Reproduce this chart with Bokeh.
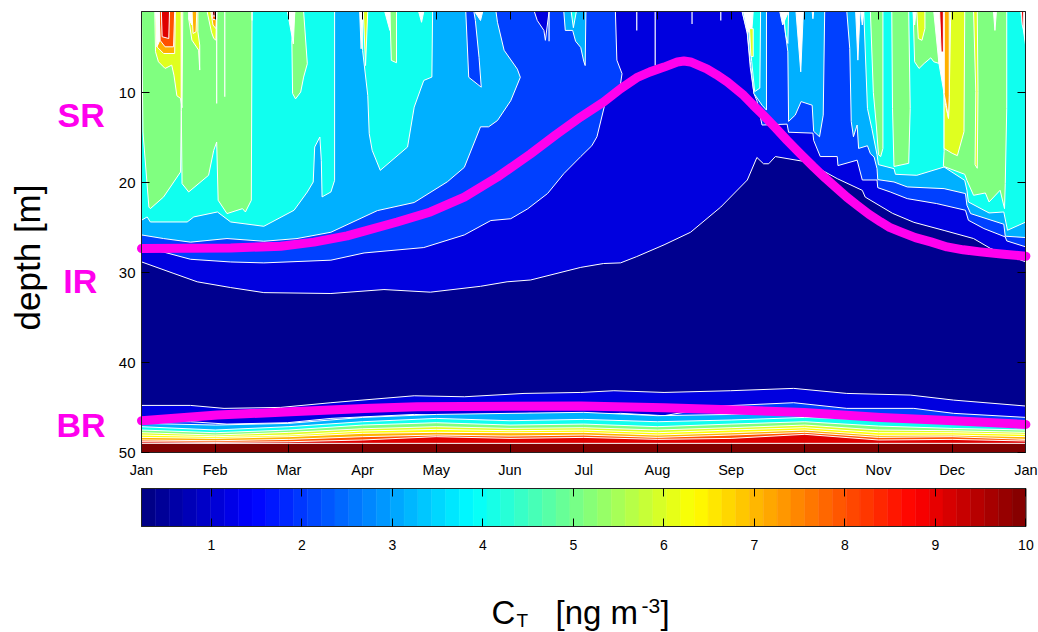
from bokeh.plotting import figure
from bokeh.layouts import column
from bokeh.models import Range1d, LinearAxis, FixedTicker, Label
from bokeh.embed import file_html
from bokeh.resources import INLINE
import math

MONTHS = ["Jan","Feb","Mar","Apr","May","Jun","Jul","Aug","Sep","Oct","Nov","Dec","Jan"]
DEPTH_TICKS = [10,20,30,40,50]
CBAR_TICKS = [1,2,3,4,5,6,7,8,9,10]
CBAR_MIN, CBAR_MAX = 0.227, 10.0

NAVY, C1, C2, C3, CYAN, GREEN, LIME, YELLOW, ORANGE, ORED, RED, DRED = (
    "#00008f","#0000df","#0040ff","#00b0ff","#10ffef","#80ff80",
    "#dfff20","#ffff00","#ffb000","#ff5000","#df0000","#800000")
WHITE = "#ffffff"

# --- upper contours: (month, depth) ---
A_X = [0,.44,.756,1.21,1.66,2.57,3.29,3.92,4.60,4.96,5.28,5.96,6.27,6.50,6.72,7.09,7.45,7.86,8.22,8.35,8.44,8.51,8.60,9.03,9.44,9.78,9.82,10.19,10.48,10.89,11.29,11.52,12]
A_D = [28.79,30.08,31.0,31.64,32.2,32.3,31.86,32.15,31.5,31.0,30.8,29.4,28.97,28.9,28.2,26.9,25.5,22.7,19.7,17.2,17.9,17.9,17.1,17.7,19.55,20.85,21.6,23.4,24.4,25.3,26.2,27.3,28.8]

BL_X = [0,.30,.665,1.21,1.66,2.57,3.02,3.83,4.38,4.74,5.01,5.24,5.51,5.73,5.96,6.11,6.18,6.29,6.50,6.52,6.45,6.43]
BL_D = [27.3,27.7,28.5,28.8,28.9,28.6,27.8,27.2,25.8,24.2,24.0,22.9,21.2,19.0,17.1,15.9,14.9,11.2,9.0,7.9,6.4,1]
BR_X = [8.15,8.22,8.26,8.31,8.35,8.42,8.76,8.78,9.11,9.12,9.21,9.44,9.45,9.71,9.78,9.98,9.99,10.16,10.39,10.79,11.18,11.22,11.43,11.72,11.74,12]
BR_D = [1,3.5,7.2,10.1,10.9,13.6,13.5,14.4,14.5,15.3,17.1,17.1,18.1,17.5,19.7,19.7,20.55,21.03,21.77,22.32,23.06,24.17,25.09,26.02,26.46,27.13]

CL_X = [0,.30,.665,1.16,1.66,2.11,2.57,3.20,3.70,4.15,4.38,4.60,4.71,4.83,5.01,5.14,5.10,4.92,4.83,4.81]
CL_D = [25.8,26.2,26.6,26.2,26.5,26.2,25.5,23.1,22.2,19.9,18.3,13.8,13.8,13.1,10.9,8.3,7.4,5.3,2.2,1]
C_NOTCH_X = [4.40,4.44,4.61,4.58,4.53,4.51]
C_NOTCH_D = [1,8.3,9.4,6.1,2.0,1]
DARK_NOTCH_X = [5.33,5.37,5.46,5.48,5.53]
DARK_NOTCH_D = [1,2,3.1,4.2,1]
JUL_X = [5.73,5.75,5.85,5.89,5.96,6.0,6.02,6.03]
JUL_D = [1,3.1,3.1,4.3,5.0,6.5,7,1]
JULC_X = [5.83,5.86,5.90]
JULC_D = [1,2.8,1]

P1_X = [8.15,8.22,8.26,8.31,8.42,8.48,8.48]
P1_D = [1,3.25,6.58,10.1,11.4,11.94,1]
P2_X = [8.70,8.74,8.77,8.78,8.87,8.95,9.10,9.12,9.20,9.25,9.27]
P2_D = [1,3.6,5.47,13.2,12.5,11.0,11.4,14.3,14.9,12.5,1]
P3_X = [9.57,9.61,9.63,9.66,9.71,9.73,9.85,9.89,9.94,9.98,9.99,10.21,10.39,10.89,11.18,11.20,11.25,11.70,11.72,12,12]
P3_D = [1,5.1,13.2,14.9,13.6,16.2,15.9,16.78,17.15,18.44,19.66,19.92,20.47,20.66,21.21,22.51,23.43,24.61,25.94,26.09,1]

CY1_X = [0,.077,.12,.62,.71,1.03,1.21,1.66,2.07,2.25,2.33,2.35,2.42,2.44,2.45,2.57,2.62,2.62,0]
CY1_D = [24.17,23.8,24.36,24.36,23.8,23.25,24.36,24.84,23.06,21.03,19.92,16.04,14.93,17.52,21.58,21.03,19.74,1,1]
CY2_X = [3.0,3.0,3.07,3.09,3.13,3.24,3.61,3.70,3.83,3.94,3.95]
CY2_D = [1,5.32,10.31,14.56,16.41,18.63,16.04,11.61,8.65,8.28,1]
CY3_X = [8.17,8.24,8.28,8.32,8.39,8.40]
CY3_D = [1,3.25,6.58,9.9,9.5,1]
CY4_X = [8.71,8.74,8.77,8.78]
CY4_D = [1,3.6,4.55,1]
CY5_X = [9.80,9.85,9.91,9.98,10.0,10.21,10.23,10.52,10.89,11.17,11.20,11.22,11.50,11.70,11.75,12,12]
CY5_D = [1,11.75,14,16.9,18.0,18.44,19.07,19.18,18.26,19.74,20.84,22.14,23.36,23.25,25.28,24.36,1]

GL_X = [0,.02,.10,.12,.30,.53,.54,.55,.64,.91,.98,1.02,1.04,1.16,1.37,1.41,1.49,1.50]
GL_D = [1,14.38,22.7,22.88,21.58,18.81,11.98,20.1,21.03,19.18,16.41,15.49,21.95,23.43,22.88,23.25,21.95,1]
GM1_X = [2.08,2.04,2.05,2.09,2.16,2.20,2.25,2.20]
GM1_D = [1,4.2,10.1,10.7,9.94,8.28,6.8,1]
GM2_X = [3.37,3.39,3.46,3.46]
GM2_D = [1,6.43,6.69,1]
GR1_X = [9.89,9.93,9.97,10.0,10.03,10.06,10.06]
GR1_D = [1,10,13.6,16.9,17.1,16.2,1]
GR2_X = [10.18,10.19,10.21,10.41,10.43,10.41]
GR2_D = [1,11.75,18.2,17.85,11.75,1]
GR3_X = [10.47,10.49,10.55,10.62,10.71,10.75,10.82,10.84]
GR3_D = [1,6.58,7.32,6.76,6.14,6.58,6.76,1]
GR4_X = [10.89,10.89,10.88,11.17,11.20,11.29,11.45,11.50,11.65,11.71,11.72,11.74,11.74]
GR4_D = [1,16.55,18.18,19.07,19.74,21.4,21.14,22.14,20.84,22.88,20.1,11.75,1]

# hot patches
LY1_X = [.18,.19,.23,.32,.41,.44,.48,.53,.55,.56]
LY1_D = [1,5.47,6.58,7.32,6.95,8.06,10.35,10.65,11.68,1]
LO1_X = [.21,.21,.30,.45,.46]
LO1_D = [1,4.92,5.66,5.66,1]
LR1_X = [.24,.25,.32,.435,.45]
LR1_D = [1,4.18,4.92,4.92,1]
LD1_X = [.27,.28,.37,.38]
LD1_D = [1,3.8,4.0,1]
LW1_X = [.19,.21,.25,.24]
LW1_D = [1,4.92,4.18,1]
LY2_X = [.64,.684,.775,.79,.79,.765,.765]
LY2_D = [1.78,4.18,5.29,7.5,4.73,3.25,1]
LO2_X = [.684,.70,.74,.75]
LO2_D = [1,3.44,3.25,1]
LW2_X = [.64,.64,.684,.684]
LW2_D = [1,1.78,2.5,1]
LY3_X = [.89,.95,.98,1.01,1.02]
LY3_D = [1,3.3,3.99,4.18,1]
LO3_X = [.94,.97,1.01,1.02]
LO3_D = [1,2.5,2.9,1]
LR3_X = [.95,.97,1.02,1.02]
LR3_D = [1,1.9,1.9,1]
LD3_X = [.96,.97,1.0,1.0]
LD3_D = [1,1.5,1.5,1]
MY1_X = [3.01,3.04,3.07]
MY1_D = [1,7,1]
RY1_X = [10.89,10.89,11.0,11.07,11.16,11.17,10.98,10.96,10.95,10.91]
RY1_D = [9.9,16.2,16.74,17,14.34,1,1,10.28,12.86,11.4]
RO1_X = [10.89,10.89,10.92,10.95,10.96,10.96]
RO1_D = [1,10.09,11.4,12.86,10.28,1]
RW1_X = [10.75,10.82,10.89,10.89]
RW1_D = [1,6.76,10.09,1]
RD1_X = [10.83,10.85,10.88,10.88]
RD1_D = [1,5.5,5.5,1]
RY2_X = [10.52,10.54,10.59,10.63,10.63]
RY2_D = [1,4,4.2,2.9,1]
RY3_X = [11.29,11.32,11.31,11.34,11.35,11.34]
RY3_D = [1,9.9,18,18.4,9.9,1]
EW1_X = [11.93,12,12]
EW1_D = [1,5,1]
ED1_X = [11.94,11.95,11.97,11.97]
ED1_D = [1,2.5,3,1]
TY1_X = [8.25,8.30,8.30,8.27]
TY1_D = [2.9,2.9,6.0,6.0]
TW1_X = [8.17,8.225,8.28,8.30]
TW1_D = [1,3.25,3.25,1]

WEDGES = [
    ([1.98,2.06,2.08],[1,4.6,1]), ([3.30,3.37,3.37],[1,3.1,1]),
    ([2.96,2.98,3.0],[1,5.14,1]), ([3.76,3.80,3.83],[1,2.2,1]),
    ([4.52,4.60,4.63],[1,2,1]), ([8.88,8.945,8.98],[1,7.7,1]),
    ([9.10,9.11,9.12],[1,1.8,1]), ([9.69,9.72,9.75],[1,6.4,1]),
    ([9.76,9.78,9.80],[1,2.5,1]), ([10.47,10.49,10.51],[1,2.5,1]),
    ([11.56,11.58,11.60],[1,3.1,1]), ([8.66,8.70,8.78],[1,2.5,1]),
]
SPIKE_X = [1.02,1.13,6.72,6.97,7.47,7.86,5.53,.54,1.50,8.48]
SPIKE_D = [11.2,10.46,3.1,7.0,2.4,2.0,4.3,12.0,2.0,1.0]

# --- lower contours ---
LOW_A_X = [0,.665,1.12,1.89,2.57,3.70,4.38,5.19,5.96,6.41,7.09,7.99,8.85,9.57,10.43,11.02,12]
LOW_A_D = [44.72,44.72,45.05,44.94,44.42,43.65,43.76,43.39,43.28,43.09,43.28,43.09,42.83,43.39,43.57,44.13,44.79]
LOW_B_X = [0,.665,1.16,1.98,2.57,3.70,4.38,5.28,5.96,6.50,7.09,7.86,8.85,9.57,10.48,11.02,12]
LOW_B_D = [46.53,46.53,46.79,46.64,46.16,45.72,45.9,45.6,45.9,45.6,45.86,44.79,44.42,45.05,45.05,45.6,46.05]
MONTH_POS = [0,1,2,3,4,5,6,7,8,9,10,11,12]
B3 = [46.71,46.9,46.71,46.05,45.72,45.6,45.49,45.86,45.72,45.42,45.98,46.27,46.53]
B4 = [47.08,47.45,47.08,46.53,46.16,46.42,46.27,46.53,46.34,46.05,46.34,46.71,47.27]
B5 = [47.45,47.75,47.45,46.9,46.64,46.9,46.79,47.08,46.79,46.53,47.01,47.27,47.45]
B6 = [47.75,48.01,47.71,47.31,47.08,47.27,47.19,47.45,47.19,46.9,47.45,47.53,47.71]
B7 = [48.01,48.19,48.01,47.56,47.38,47.53,47.45,47.75,47.45,47.19,47.75,47.75,47.93]
B8 = [48.27,48.38,48.19,47.82,47.71,47.75,47.71,48.01,47.75,47.45,48.04,48.01,48.19]
B9 = [48.56,48.64,48.49,48.19,48.01,48.12,48.01,48.27,48.01,47.71,48.27,48.19,48.49]
B10 = [48.75,48.82,48.75,48.56,48.19,48.38,48.27,48.49,48.38,47.93,48.56,48.49,48.67]
B11 = [48.93,48.93,48.93,48.93,48.93,48.93,48.93,48.93,48.93,48.93,48.93,48.93,48.93]

# --- magenta layer boundaries ---
MU_X = [0,1.21,1.89,2.34,2.79,3.47,3.92,4.38,4.83,5.28,5.62,5.96,6.27,6.50,6.72,6.9,7.09,7.27,7.36,7.45,7.67,7.8,7.95,8.17,8.3,8.44,8.6,8.76,8.94,9.12,9.28,9.44,9.57,9.71,9.87,10.03,10.15,10.30,10.5,10.71,10.93,11.15,11.38,11.7,12]
MU_D = [27.3,27.24,27.05,26.6,25.9,24.36,23.25,21.6,19.37,16.8,14.7,12.7,11.05,9.57,8.35,7.7,7.17,6.6,6.5,6.6,7.36,8.0,8.83,10.3,11.4,12.53,13.9,15.3,16.8,18.26,19.5,20.66,21.6,22.5,23.5,24.36,24.95,25.46,26.1,26.57,27.13,27.45,27.68,27.95,28.16]
ML_X = [0,1.03,2.02,3.02,3.74,5.96,7.09,7.86,8.99,10.03,11.02,12]
ML_D = [46.42,45.79,45.42,45.05,44.87,44.79,44.98,45.16,45.5,46.05,46.42,46.83]

TOP = 1
BOT = 50
FONT = "Liberation Sans"
PX_PER_MONTH = 73.7
PX_PER_M = 9.01
CANVAS_W = 1038
H1, H2 = 486, 146

regions = []
def add(color, xs, ds):
    regions.append((color, xs, ds))

add(C1, [0] + A_X + [12], [TOP] + A_D + [TOP])
add(C2, [0] + BL_X, [TOP] + BL_D)
add(C2, BR_X + [12], BR_D + [TOP])
add(C3, [0] + CL_X, [TOP] + CL_D)
add(C2, C_NOTCH_X, C_NOTCH_D)
add(C1, DARK_NOTCH_X, DARK_NOTCH_D)
add(C3, JUL_X, JUL_D)
add(CYAN, JULC_X, JULC_D)
add(C3, P1_X, P1_D)
add(C3, P2_X, P2_D)
add(C3, P3_X, P3_D)
for xs, ds in [(CY1_X,CY1_D),(CY2_X,CY2_D),(CY3_X,CY3_D),(CY4_X,CY4_D),(CY5_X,CY5_D)]:
    add(CYAN, xs, ds)
for xs, ds in [(GL_X,GL_D),(GM1_X,GM1_D),(GM2_X,GM2_D),(GR1_X,GR1_D),(GR2_X,GR2_D),(GR3_X,GR3_D),(GR4_X,GR4_D)]:
    add(GREEN, xs, ds)
for col, xs, ds in [
    (LIME,LY1_X,LY1_D),(ORANGE,LO1_X,LO1_D),(ORED,LR1_X,LR1_D),(RED,LD1_X,LD1_D),(WHITE,LW1_X,LW1_D),
    (LIME,LY2_X,LY2_D),(ORANGE,LO2_X,LO2_D),(WHITE,LW2_X,LW2_D),
    (LIME,LY3_X,LY3_D),(ORANGE,LO3_X,LO3_D),(ORED,LR3_X,LR3_D),(DRED,LD3_X,LD3_D),
    (LIME,MY1_X,MY1_D),
    (LIME,RY1_X,RY1_D),(ORANGE,RO1_X,RO1_D),(WHITE,RW1_X,RW1_D),(RED,RD1_X,RD1_D),
    (LIME,RY2_X,RY2_D),(LIME,RY3_X,RY3_D),(WHITE,EW1_X,EW1_D),(RED,ED1_X,ED1_D),
    (WHITE,TW1_X,TW1_D),(LIME,TY1_X,TY1_D)]:
    add(col, xs, ds)
for xs, ds in WEDGES:
    add(WHITE, xs, ds)

def lower(color, xs, ds):
    add(color, [0] + xs + [12, 12, 0], [ds[0]] + ds + [ds[-1], BOT, BOT])
lower(C1, LOW_A_X, LOW_A_D)
lower(C2, LOW_B_X, LOW_B_D)
for col, ds in [(C3,B3),(CYAN,B4),(GREEN,B5),(LIME,B6),(YELLOW,B7),(ORANGE,B8),(ORED,B9),(RED,B10),(DRED,B11)]:
    lower(col, MONTH_POS, ds)

# The plotting frame covers the whole canvas, so nothing is clipped; axes sit at fixed data locations.
p = figure(width=CANVAS_W, height=H1, output_backend="svg", toolbar_location=None,
           x_range=Range1d(-141/PX_PER_MONTH, (CANVAS_W-141)/PX_PER_MONTH),
           y_range=Range1d(TOP+(H1-11)/PX_PER_M, TOP-11/PX_PER_M),
           x_axis_location=None, y_axis_location=None,
           min_border_left=0, min_border_right=0, min_border_top=0, min_border_bottom=0)
p.grid.visible = False
p.outline_line_color = None
p.background_fill_color = WHITE
p.border_fill_color = WHITE

p.patches(xs=[[0,12,12,0]], ys=[[TOP,TOP,BOT,BOT]], fill_color=NAVY, line_color=None)
p.patches(xs=[r[1] for r in regions], ys=[r[2] for r in regions],
          fill_color=[r[0] for r in regions], line_color=WHITE, line_width=1)
p.segment(x0=SPIKE_X, y0=[TOP]*len(SPIKE_X), x1=SPIKE_X, y1=SPIKE_D, line_color=WHITE, line_width=1.2)
p.line(MU_X, MU_D, line_color="#ff00ee", line_width=9, line_cap="round", line_join="round")
p.line(ML_X, ML_D, line_color="#ff00ee", line_width=9, line_cap="round", line_join="round")

def axis(fig, side, fixed, ticks, labels, bounds, standoff=6, fs="15px"):
    a = LinearAxis(fixed_location=fixed, bounds=bounds, ticker=FixedTicker(ticks=ticks),
                   major_label_overrides={t: l for t, l in zip(ticks, labels)},
                   major_tick_in=8, major_tick_out=0, minor_tick_in=0, minor_tick_out=0,
                   major_label_standoff=standoff, major_label_text_font=FONT,
                   major_label_text_font_size=fs, major_label_text_color="black",
                   axis_line_color="#222222", major_tick_line_color="black")
    fig.add_layout(a, side)
    return a

m_ticks = list(range(13))
axis(p, "below", BOT, m_ticks, MONTHS, (0,12), standoff=9, fs="14.5px")
axis(p, "above", TOP, m_ticks, [""]*13, (0,12))
axis(p, "left", 0, DEPTH_TICKS, [str(d) for d in DEPTH_TICKS], (TOP,BOT), standoff=6)
axis(p, "right", 12, DEPTH_TICKS, [""]*5, (TOP,BOT))

for txt, x, d in [("SR",-.82,12.5),("IR",-.83,30.9),("BR",-.82,46.9)]:
    p.add_layout(Label(x=x, y=d, text=txt, text_color="#ff00ee", text_font=FONT, text_font_style="bold",
                       text_font_size="34px", text_align="center", text_baseline="middle"))
p.add_layout(Label(x=-1.55, y=28.3, text="depth [m]", angle=math.pi/2, text_color="black", text_font=FONT,
                   text_font_size="35px", text_align="center", text_baseline="middle"))

# --- colour bar ---
def jet(t):
    r = min(max(min(4*t-1.5, -4*t+4.5), 0), 1)
    g = min(max(min(4*t-0.5, -4*t+3.5), 0), 1)
    b = min(max(min(4*t+0.5, -4*t+2.5), 0), 1)
    return "#%02x%02x%02x" % (int(r*255), int(g*255), int(b*255))

N = 64
step = (CBAR_MAX - CBAR_MIN) / N
U = (1025.4 - 141) / (CBAR_MAX - CBAR_MIN)   # px per unit
BAR_TOP_PX, BAR_H = 488, 38
def vx(px): return CBAR_MIN + (px - 141) / U
def vy(py): return 1 - (py - BAR_TOP_PX) / BAR_H

c = figure(width=CANVAS_W, height=H2, output_backend="svg", toolbar_location=None,
           x_range=Range1d(vx(0), vx(CANVAS_W)), y_range=Range1d(vy(H1+H2), vy(H1)),
           x_axis_location=None, y_axis_location=None,
           min_border_left=0, min_border_right=0, min_border_top=0, min_border_bottom=0)
c.grid.visible = False
c.outline_line_color = None
cols = [jet((i + .5) / N) for i in range(N)]
c.quad(left=[CBAR_MIN + i*step for i in range(N)], right=[CBAR_MIN + (i+1)*step for i in range(N)],
       bottom=0, top=1, fill_color=cols, line_color=cols, line_width=.5)
c.quad(left=[CBAR_MIN], right=[CBAR_MAX], bottom=[0], top=[1], fill_color=None, line_color="#222222", line_width=1)
axis(c, "below", 0, CBAR_TICKS, [str(t) for t in CBAR_TICKS], (CBAR_MIN, CBAR_MAX), standoff=13, fs="14px")
axis(c, "above", 1, CBAR_TICKS, [""]*10, (CBAR_MIN, CBAR_MAX))

for txt, px, py, fs in [("C",491,612,"33px"),("T",516,620,"19px"),("[ng m",555,612,"33px"),("-3",641,605,"21px"),("]",660,612,"33px")]:
    c.add_layout(Label(x=vx(px), y=vy(py), text=txt, text_color="black", text_font=FONT,
                       text_font_size=fs, text_align="left", text_baseline="middle"))

open("out.html", "w").write(file_html(column(p, c, spacing=0), INLINE))
